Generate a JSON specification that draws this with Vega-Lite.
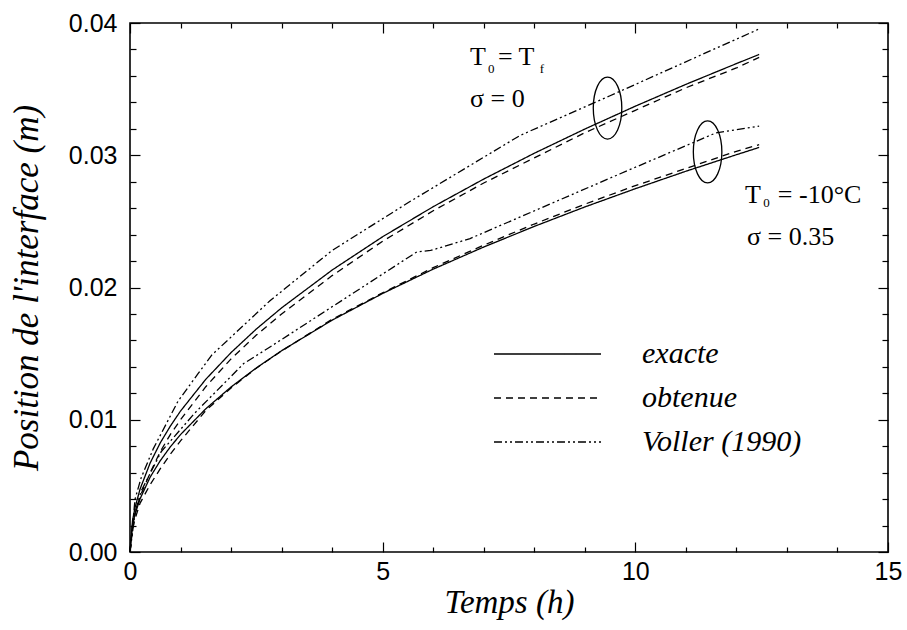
{
  "$schema": "https://vega.github.io/schema/vega-lite/v6.json",
  "width": 758,
  "height": 529,
  "autosize": {"type": "none"},
  "padding": {"left": 130, "top": 23, "right": 19, "bottom": 78},
  "background": "#ffffff",
  "datasets": {
    "curves": [
      {"cas": "T0=Tf", "methode": "exacte", "t": 0, "pos": 0},
      {"cas": "T0=Tf", "methode": "exacte", "t": 0.05, "pos": 0.00238},
      {"cas": "T0=Tf", "methode": "exacte", "t": 0.1, "pos": 0.00337},
      {"cas": "T0=Tf", "methode": "exacte", "t": 0.2, "pos": 0.00477},
      {"cas": "T0=Tf", "methode": "exacte", "t": 0.4, "pos": 0.00674},
      {"cas": "T0=Tf", "methode": "exacte", "t": 0.6, "pos": 0.00826},
      {"cas": "T0=Tf", "methode": "exacte", "t": 0.8, "pos": 0.00953},
      {"cas": "T0=Tf", "methode": "exacte", "t": 1, "pos": 0.01066},
      {"cas": "T0=Tf", "methode": "exacte", "t": 1.5, "pos": 0.01306},
      {"cas": "T0=Tf", "methode": "exacte", "t": 2, "pos": 0.01508},
      {"cas": "T0=Tf", "methode": "exacte", "t": 2.5, "pos": 0.01686},
      {"cas": "T0=Tf", "methode": "exacte", "t": 3, "pos": 0.01846},
      {"cas": "T0=Tf", "methode": "exacte", "t": 4, "pos": 0.02132},
      {"cas": "T0=Tf", "methode": "exacte", "t": 5, "pos": 0.02384},
      {"cas": "T0=Tf", "methode": "exacte", "t": 6, "pos": 0.02611},
      {"cas": "T0=Tf", "methode": "exacte", "t": 7, "pos": 0.0282},
      {"cas": "T0=Tf", "methode": "exacte", "t": 8, "pos": 0.03015},
      {"cas": "T0=Tf", "methode": "exacte", "t": 9, "pos": 0.03198},
      {"cas": "T0=Tf", "methode": "exacte", "t": 10, "pos": 0.03371},
      {"cas": "T0=Tf", "methode": "exacte", "t": 11, "pos": 0.03536},
      {"cas": "T0=Tf", "methode": "exacte", "t": 12, "pos": 0.03693},
      {"cas": "T0=Tf", "methode": "exacte", "t": 12.45, "pos": 0.03762},

      {"cas": "T0=Tf", "methode": "obtenue", "t": 0, "pos": 0},
      {"cas": "T0=Tf", "methode": "obtenue", "t": 0.05, "pos": 0.002},
      {"cas": "T0=Tf", "methode": "obtenue", "t": 0.1, "pos": 0.0029},
      {"cas": "T0=Tf", "methode": "obtenue", "t": 0.2, "pos": 0.0042},
      {"cas": "T0=Tf", "methode": "obtenue", "t": 0.4, "pos": 0.006},
      {"cas": "T0=Tf", "methode": "obtenue", "t": 0.6, "pos": 0.0076},
      {"cas": "T0=Tf", "methode": "obtenue", "t": 0.8, "pos": 0.0089},
      {"cas": "T0=Tf", "methode": "obtenue", "t": 1, "pos": 0.01},
      {"cas": "T0=Tf", "methode": "obtenue", "t": 1.5, "pos": 0.0125},
      {"cas": "T0=Tf", "methode": "obtenue", "t": 2, "pos": 0.0146},
      {"cas": "T0=Tf", "methode": "obtenue", "t": 2.5, "pos": 0.0164},
      {"cas": "T0=Tf", "methode": "obtenue", "t": 3, "pos": 0.018},
      {"cas": "T0=Tf", "methode": "obtenue", "t": 4, "pos": 0.0209},
      {"cas": "T0=Tf", "methode": "obtenue", "t": 5, "pos": 0.0235},
      {"cas": "T0=Tf", "methode": "obtenue", "t": 6, "pos": 0.0258},
      {"cas": "T0=Tf", "methode": "obtenue", "t": 7, "pos": 0.0279},
      {"cas": "T0=Tf", "methode": "obtenue", "t": 8, "pos": 0.0298},
      {"cas": "T0=Tf", "methode": "obtenue", "t": 9, "pos": 0.0317},
      {"cas": "T0=Tf", "methode": "obtenue", "t": 10, "pos": 0.0334},
      {"cas": "T0=Tf", "methode": "obtenue", "t": 11, "pos": 0.0351},
      {"cas": "T0=Tf", "methode": "obtenue", "t": 12, "pos": 0.0366},
      {"cas": "T0=Tf", "methode": "obtenue", "t": 12.45, "pos": 0.0374},

      {"cas": "T0=Tf", "methode": "Voller (1990)", "t": 0, "pos": 0},
      {"cas": "T0=Tf", "methode": "Voller (1990)", "t": 0.1, "pos": 0.004},
      {"cas": "T0=Tf", "methode": "Voller (1990)", "t": 0.22, "pos": 0.0056},
      {"cas": "T0=Tf", "methode": "Voller (1990)", "t": 0.46, "pos": 0.0078},
      {"cas": "T0=Tf", "methode": "Voller (1990)", "t": 0.95, "pos": 0.0114},
      {"cas": "T0=Tf", "methode": "Voller (1990)", "t": 1.35, "pos": 0.0135},
      {"cas": "T0=Tf", "methode": "Voller (1990)", "t": 1.62, "pos": 0.0149},
      {"cas": "T0=Tf", "methode": "Voller (1990)", "t": 2.77, "pos": 0.019},
      {"cas": "T0=Tf", "methode": "Voller (1990)", "t": 4.0, "pos": 0.0228},
      {"cas": "T0=Tf", "methode": "Voller (1990)", "t": 5.54, "pos": 0.0265},
      {"cas": "T0=Tf", "methode": "Voller (1990)", "t": 7.72, "pos": 0.0315},
      {"cas": "T0=Tf", "methode": "Voller (1990)", "t": 9.5, "pos": 0.0345},
      {"cas": "T0=Tf", "methode": "Voller (1990)", "t": 12.45, "pos": 0.03955},

      {"cas": "T0=-10", "methode": "exacte", "t": 0, "pos": 0},
      {"cas": "T0=-10", "methode": "exacte", "t": 0.05, "pos": 0.00204},
      {"cas": "T0=-10", "methode": "exacte", "t": 0.1, "pos": 0.00287},
      {"cas": "T0=-10", "methode": "exacte", "t": 0.2, "pos": 0.00403},
      {"cas": "T0=-10", "methode": "exacte", "t": 0.4, "pos": 0.00567},
      {"cas": "T0=-10", "methode": "exacte", "t": 0.6, "pos": 0.00691},
      {"cas": "T0=-10", "methode": "exacte", "t": 0.8, "pos": 0.00796},
      {"cas": "T0=-10", "methode": "exacte", "t": 1, "pos": 0.00888},
      {"cas": "T0=-10", "methode": "exacte", "t": 1.5, "pos": 0.01083},
      {"cas": "T0=-10", "methode": "exacte", "t": 2, "pos": 0.01248},
      {"cas": "T0=-10", "methode": "exacte", "t": 2.5, "pos": 0.01392},
      {"cas": "T0=-10", "methode": "exacte", "t": 3, "pos": 0.01522},
      {"cas": "T0=-10", "methode": "exacte", "t": 4, "pos": 0.01753},
      {"cas": "T0=-10", "methode": "exacte", "t": 5, "pos": 0.01955},
      {"cas": "T0=-10", "methode": "exacte", "t": 6, "pos": 0.02139},
      {"cas": "T0=-10", "methode": "exacte", "t": 7, "pos": 0.02306},
      {"cas": "T0=-10", "methode": "exacte", "t": 8, "pos": 0.02462},
      {"cas": "T0=-10", "methode": "exacte", "t": 9, "pos": 0.02609},
      {"cas": "T0=-10", "methode": "exacte", "t": 10, "pos": 0.02747},
      {"cas": "T0=-10", "methode": "exacte", "t": 11, "pos": 0.02879},
      {"cas": "T0=-10", "methode": "exacte", "t": 12, "pos": 0.03004},
      {"cas": "T0=-10", "methode": "exacte", "t": 12.45, "pos": 0.03059},

      {"cas": "T0=-10", "methode": "obtenue", "t": 0, "pos": 0},
      {"cas": "T0=-10", "methode": "obtenue", "t": 0.05, "pos": 0.0017},
      {"cas": "T0=-10", "methode": "obtenue", "t": 0.1, "pos": 0.0025},
      {"cas": "T0=-10", "methode": "obtenue", "t": 0.2, "pos": 0.0037},
      {"cas": "T0=-10", "methode": "obtenue", "t": 0.4, "pos": 0.0051},
      {"cas": "T0=-10", "methode": "obtenue", "t": 0.6, "pos": 0.0063},
      {"cas": "T0=-10", "methode": "obtenue", "t": 0.8, "pos": 0.0074},
      {"cas": "T0=-10", "methode": "obtenue", "t": 1, "pos": 0.0084},
      {"cas": "T0=-10", "methode": "obtenue", "t": 1.5, "pos": 0.0107},
      {"cas": "T0=-10", "methode": "obtenue", "t": 2, "pos": 0.0124},
      {"cas": "T0=-10", "methode": "obtenue", "t": 2.5, "pos": 0.0139},
      {"cas": "T0=-10", "methode": "obtenue", "t": 3, "pos": 0.0152},
      {"cas": "T0=-10", "methode": "obtenue", "t": 4, "pos": 0.0176},
      {"cas": "T0=-10", "methode": "obtenue", "t": 5, "pos": 0.0196},
      {"cas": "T0=-10", "methode": "obtenue", "t": 6, "pos": 0.0215},
      {"cas": "T0=-10", "methode": "obtenue", "t": 7, "pos": 0.0232},
      {"cas": "T0=-10", "methode": "obtenue", "t": 8, "pos": 0.0248},
      {"cas": "T0=-10", "methode": "obtenue", "t": 9, "pos": 0.0263},
      {"cas": "T0=-10", "methode": "obtenue", "t": 10, "pos": 0.0277},
      {"cas": "T0=-10", "methode": "obtenue", "t": 11, "pos": 0.029},
      {"cas": "T0=-10", "methode": "obtenue", "t": 12, "pos": 0.0303},
      {"cas": "T0=-10", "methode": "obtenue", "t": 12.45, "pos": 0.0308},

      {"cas": "T0=-10", "methode": "Voller (1990)", "t": 0, "pos": 0},
      {"cas": "T0=-10", "methode": "Voller (1990)", "t": 0.1, "pos": 0.003},
      {"cas": "T0=-10", "methode": "Voller (1990)", "t": 0.22, "pos": 0.0046},
      {"cas": "T0=-10", "methode": "Voller (1990)", "t": 0.62, "pos": 0.0076},
      {"cas": "T0=-10", "methode": "Voller (1990)", "t": 1.28, "pos": 0.0105},
      {"cas": "T0=-10", "methode": "Voller (1990)", "t": 2.25, "pos": 0.01425},
      {"cas": "T0=-10", "methode": "Voller (1990)", "t": 2.77, "pos": 0.0155},
      {"cas": "T0=-10", "methode": "Voller (1990)", "t": 5.68, "pos": 0.0227},
      {"cas": "T0=-10", "methode": "Voller (1990)", "t": 5.95, "pos": 0.0228},
      {"cas": "T0=-10", "methode": "Voller (1990)", "t": 6.73, "pos": 0.0237},
      {"cas": "T0=-10", "methode": "Voller (1990)", "t": 9.7, "pos": 0.0286},
      {"cas": "T0=-10", "methode": "Voller (1990)", "t": 11.6, "pos": 0.0317},
      {"cas": "T0=-10", "methode": "Voller (1990)", "t": 12.45, "pos": 0.0322}
    ],
    "groupes": [
      {"cas": "T0=Tf", "t": 9.45, "pos": 0.03357},
      {"cas": "T0=-10", "t": 11.43, "pos": 0.03025}
    ],
    "etiquettes": [
      {"t": 6.73, "pos": 0.03682, "texte": "T"},
      {"t": 7.28, "pos": 0.03682, "texte": "= T"},
      {"t": 6.73, "pos": 0.03365, "texte": "σ = 0"},
      {"t": 12.17, "pos": 0.02639, "texte": "T"},
      {"t": 12.82, "pos": 0.02639, "texte": "= -10°C"},
      {"t": 12.21, "pos": 0.02321, "texte": "σ = 0.35"}
    ],
    "indices": [
      {"t": 7.085, "pos": 0.03622, "texte": "0"},
      {"t": 8.11, "pos": 0.03622, "texte": "f"},
      {"t": 12.53, "pos": 0.02609, "texte": "0"}
    ]
  },
  "resolve": {"axis": {"x": "independent", "y": "independent"}},
  "layer": [
    {
      "data": {"name": "curves"},
      "mark": {"type": "line", "color": "#000000", "strokeWidth": 1.3},
      "encoding": {
        "x": {
          "field": "t", "type": "quantitative",
          "scale": {"domain": [0, 15], "nice": false, "zero": true},
          "axis": {"orient": "bottom", "values": [0, 5, 10, 15], "title": "Temps (h)",
                   "tickSize": -10, "labelPadding": 17, "labelFlush": false,
                   "titlePadding": 2, "titleFontSize": 33}
        },
        "y": {
          "field": "pos", "type": "quantitative",
          "scale": {"domain": [0, 0.04], "nice": false, "zero": true},
          "axis": {"orient": "left", "values": [0, 0.01, 0.02, 0.03, 0.04], "format": ".2f",
                   "title": "Position de l'interface (m)", "tickSize": -10, "labelPadding": 23,
                   "labelFlush": false, "titlePadding": 24, "titleFontSize": 35}
        },
        "strokeDash": {
          "field": "methode", "type": "nominal",
          "scale": {"domain": ["exacte", "obtenue", "Voller (1990)"],
                    "range": [[1, 0], [7, 5], [8, 3, 2, 3, 2, 3]]},
          "legend": {"orient": "none", "legendX": 363, "legendY": 316, "title": null,
                     "symbolType": "stroke", "symbolSize": 11449, "symbolStrokeWidth": 1.3,
                     "symbolStrokeColor": "#000000", "clipHeight": 30, "rowPadding": 14,
                     "labelFont": "Liberation Serif", "labelFontStyle": "italic", "labelFontSize": 30,
                     "labelColor": "#000000", "labelOffset": 40, "padding": 0}
        },
        "detail": {"field": "cas", "type": "nominal"}
      }
    },
    {
      "data": {"name": "groupes"},
      "mark": {"type": "point", "shape": "M0,-1A0.46,1 0 1,1 0,1A0.46,1 0 1,1 0,-1Z",
               "size": 3844, "filled": false, "color": "#000000", "strokeWidth": 1.3, "opacity": 1},
      "encoding": {
        "x": {"field": "t", "type": "quantitative",
              "axis": {"orient": "bottom", "values": [1, 2, 3, 4, 6, 7, 8, 9, 11, 12, 13, 14],
                       "labels": false, "title": null, "tickSize": -5}},
        "y": {"field": "pos", "type": "quantitative",
              "axis": {"orient": "left",
                       "values": [0.002, 0.004, 0.006, 0.008, 0.012, 0.014, 0.016, 0.018, 0.022, 0.024, 0.026, 0.028, 0.032, 0.034, 0.036, 0.038],
                       "labels": false, "title": null, "tickSize": -6}}
      }
    },
    {
      "data": {"name": "etiquettes"},
      "mark": {"type": "text", "align": "left", "baseline": "alphabetic",
               "font": "Liberation Serif", "fontSize": 26, "color": "#000000"},
      "encoding": {
        "x": {"field": "t", "type": "quantitative",
              "axis": {"orient": "top", "values": [0, 5, 10, 15], "labels": false, "title": null, "tickSize": -10}},
        "y": {"field": "pos", "type": "quantitative",
              "axis": {"orient": "right", "values": [0, 0.01, 0.02, 0.03, 0.04], "labels": false, "title": null, "tickSize": -10}},
        "text": {"field": "texte", "type": "nominal"}
      }
    },
    {
      "data": {"name": "indices"},
      "mark": {"type": "text", "align": "left", "baseline": "alphabetic",
               "font": "Liberation Serif", "fontSize": 13, "color": "#000000"},
      "encoding": {
        "x": {"field": "t", "type": "quantitative",
              "axis": {"orient": "top", "values": [1, 2, 3, 4, 6, 7, 8, 9, 11, 12, 13, 14],
                       "labels": false, "title": null, "tickSize": -5}},
        "y": {"field": "pos", "type": "quantitative",
              "axis": {"orient": "right",
                       "values": [0.002, 0.004, 0.006, 0.008, 0.012, 0.014, 0.016, 0.018, 0.022, 0.024, 0.026, 0.028, 0.032, 0.034, 0.036, 0.038],
                       "labels": false, "title": null, "tickSize": -6}},
        "text": {"field": "texte", "type": "nominal"}
      }
    }
  ],
  "config": {
    "view": {"stroke": "#000000", "strokeWidth": 1.6},
    "axis": {
      "domain": false, "grid": false, "ticks": true,
      "tickColor": "#000000", "tickWidth": 1.2,
      "labelColor": "#000000", "labelFont": "Liberation Sans", "labelFontSize": 25,
      "titleColor": "#000000", "titleFont": "Liberation Serif", "titleFontStyle": "italic",
      "titleFontWeight": "normal", "titleFontSize": 32
    }
  }
}
